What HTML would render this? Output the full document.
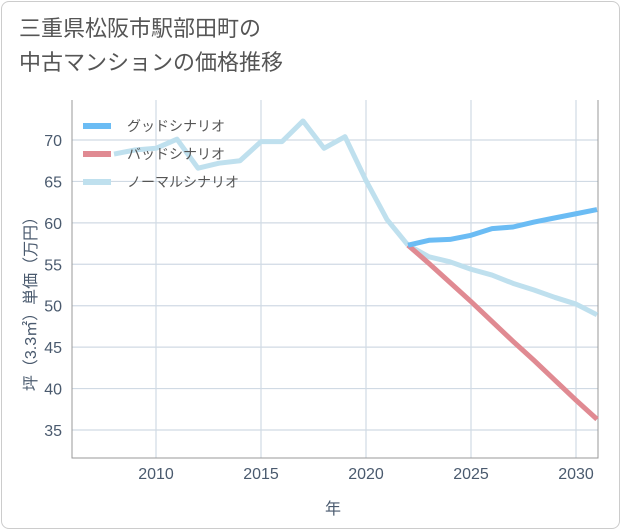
<!DOCTYPE html>
<html><head><meta charset="utf-8"><style>
body{margin:0;background:#fff;font-family:"Liberation Sans","Noto Sans CJK JP",sans-serif}
#frame{position:absolute;left:1px;top:1px;width:617px;height:526px;border:1px solid #ccc;border-radius:8px}
#title{position:absolute;left:19px;top:12px;font-size:22px;line-height:34px;color:#555}
</style></head><body>
<div id="frame"></div>
<div id="title">三重県松阪市駅部田町の<br>中古マンションの価格推移</div>
<svg id="chart" width="621" height="530" style="position:absolute;left:0;top:0"></svg>
<script>
const years=[2008,2009,2010,2011,2012,2013,2014,2015,2016,2017,2018,2019,2020,2021,2022];
const normalPast=[68.3,68.8,69.0,70.1,66.6,67.2,67.5,69.8,69.8,72.3,69.0,70.4,65.1,60.4,57.3];
const futureYears=[2022,2023,2024,2025,2026,2027,2028,2029,2030,2031];
const good=[57.3,57.9,58.0,58.5,59.3,59.5,60.1,60.6,61.1,61.6];
const bad=[57.3,55.1,52.8,50.5,48.1,45.7,43.4,41.0,38.6,36.3];
const normalFuture=[57.3,55.9,55.3,54.4,53.7,52.7,51.9,51.0,50.2,48.9];
const xTicks=[2010,2015,2020,2025,2030];
const yTicks=[35,40,45,50,55,60,65,70];
const X0=72,X1=598,Y0=100,Y1=458;
const x=v=>X0+(v-2006)*21;
const y=v=>140+(70-v)*(290/35);
const svg=document.getElementById('chart');const NS='http://www.w3.org/2000/svg';
function mk(t,a,p){const e=document.createElementNS(NS,t);for(const k in a)e.setAttribute(k,a[k]);(p||svg).appendChild(e);return e;}
xTicks.forEach(t=>{const l=mk('line',{x1:x(t),x2:x(t),y1:Y0,y2:Y1,stroke:'#d0dae4','stroke-width':1.2});

const tx=mk('text',{x:x(t),y:479,'text-anchor':'middle','font-size':16,fill:'#4a5a6e'});tx.textContent=t;
});
yTicks.forEach(t=>{const l=mk('line',{x1:X0,x2:X1,y1:y(t),y2:y(t),stroke:'#d0dae4','stroke-width':1.2});

const tx=mk('text',{x:62,y:y(t)+6,'text-anchor':'end','font-size':16,fill:'#4a5a6e'});tx.textContent=t;
});
const ax=mk('path',{d:`M${X0} ${Y0}V${Y1}H${X1}V${Y0}`,fill:'none',stroke:'#999','stroke-width':1});

function line(xs,vs,c,name){const p=mk('polyline',{points:xs.map((t,i)=>x(t)+','+y(vs[i])).join(' '),fill:'none',stroke:c,'stroke-width':5,'stroke-linejoin':'round'});
}
line(futureYears,normalFuture,'#bfe0ee','normal-scenario-future');
line(years,normalPast,'#bfe0ee','normal-scenario-history');
line(futureYears,bad,'#e08a92','bad-scenario-line');
line(futureYears,good,'#6bbcf4','good-scenario-line');
[['グッドシナリオ','#6bbcf4'],['バッドシナリオ','#e08a92'],['ノーマルシナリオ','#bfe0ee']].forEach((d,i)=>{
const g=mk('g',{});
mk('line',{x1:83,x2:111,y1:126+i*28,y2:126+i*28,stroke:d[1],'stroke-width':6},g);
const t=mk('text',{x:127,y:131+i*28,'font-size':14,fill:'#555'},g);t.textContent=d[0];});
const yt=mk('text',{transform:'translate(36,300) rotate(-90)','text-anchor':'middle','font-size':16,fill:'#4a5a6e'});yt.textContent='坪（3.3㎡）単価（万円）';

const xt=mk('text',{x:333,y:514,'text-anchor':'middle','font-size':16,fill:'#4a5a6e'});xt.textContent='年';

</script>
</body></html>
